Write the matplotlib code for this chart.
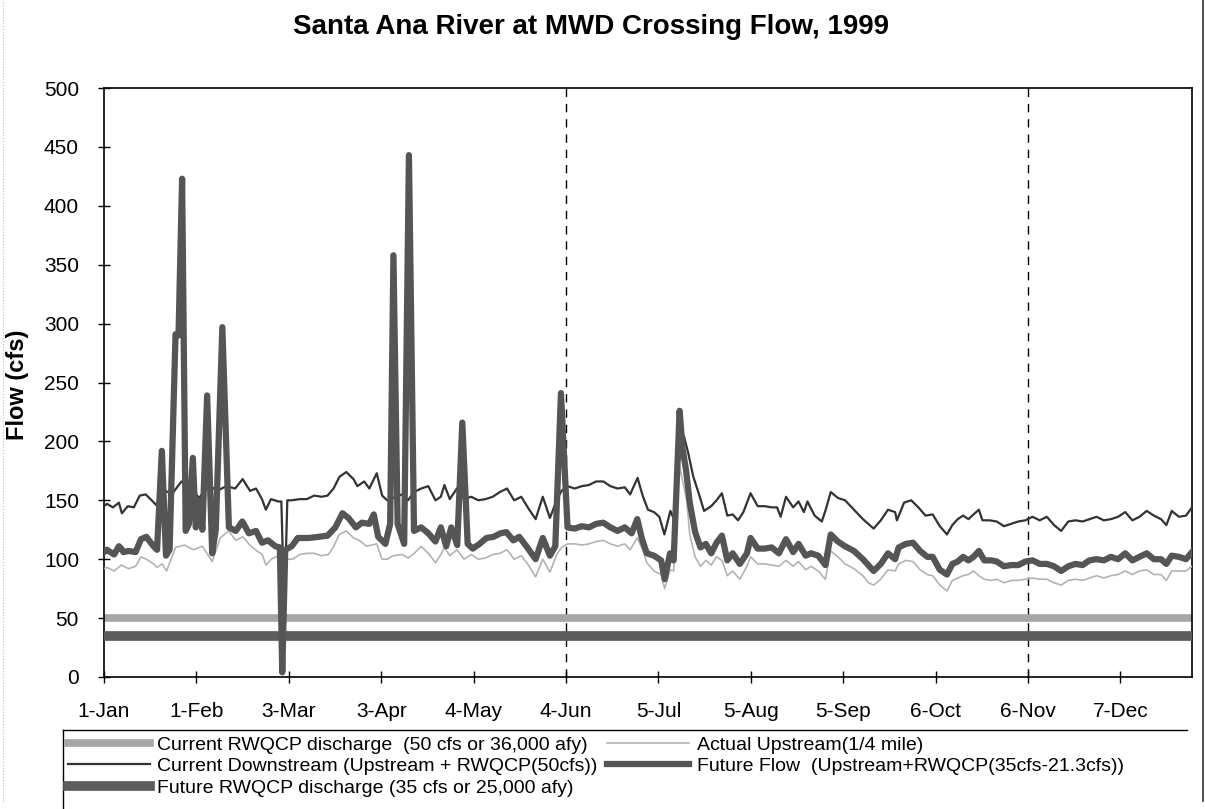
import matplotlib
matplotlib.use("Agg")
import matplotlib.pyplot as plt
from matplotlib.lines import Line2D

plt.rcParams['font.family'] = ['Liberation Sans', 'DejaVu Sans']

# x is the day index of the 1999 record (0 = 1-Jan), y is flow in cfs
tick_days = [0, 31, 62, 93, 124, 155, 186, 217, 248, 279, 310, 341]
tick_labels = ["1-Jan", "1-Feb", "3-Mar", "3-Apr", "4-May", "4-Jun",
               "5-Jul", "5-Aug", "5-Sep", "6-Oct", "6-Nov", "7-Dec"]
grid_days = [155, 310]

current_rwqcp = 50
future_rwqcp = 35

down_days = [0, 1, 3, 5, 6, 8, 10, 12, 14, 16, 17.5, 20, 23, 26, 29, 32, 35, 38, 41, 44,
             46.5, 49, 51, 53, 54.3, 56, 58.5, 59.5, 60.5, 61.5, 63, 65.7, 68, 70.5, 73, 75,
             77, 79, 81.3, 83.7, 85, 87.3, 89, 91.5, 93.3, 95, 97, 100, 102, 104, 106.4,
             108.8, 111.2, 113, 114.2, 116, 118.4, 120.8, 123.2, 125.6, 128, 130.4, 132.8,
             135.2, 137.6, 140, 142.4, 144.8, 147.2, 149.6, 152, 153.5, 155.5, 157.9, 160.3,
             162.7, 165.1, 167.5, 169.9, 172.3, 174.7, 176.5, 179, 180.7, 182.5, 184.5,
             186.3, 188, 190, 191.2, 193, 194.5, 196, 197.7, 199.5, 201.3, 203.7, 205.5,
             207.3, 209.1, 210.9, 212.7, 214.5, 216.9, 219.3, 221.6, 224, 225.8, 227, 228.8,
             231.2, 233, 234.8, 236, 238.4, 240.8, 242, 243.8, 246.2, 248.6, 251.6, 254.6,
             256.4, 258.2, 260.6, 263, 265.4, 266, 268.4, 270.8, 273.2, 275.6, 278, 280.4,
             282.8, 284.6, 286.4, 288.2, 290, 291.7, 293.5, 294.7, 297.1, 299.5, 301.9,
             304.3, 306.7, 309.1, 311.5, 313.9, 316.3, 318.7, 321.1, 323.5, 325.9, 328.3,
             330.6, 333, 335.4, 337.8, 340.2, 342.6, 345, 347.4, 349.8, 352.2, 354.6, 356.4,
             358.2, 360.6, 363, 365]
down_flow = [145, 147, 144, 148, 139, 145, 144, 154, 155, 150, 146, 158, 156, 166, 160, 152,
             163, 158, 162, 160, 168, 158, 160, 151, 142, 151, 149, 149, 55, 150, 150, 151,
             151, 154, 153, 154, 160, 170, 174, 168, 162, 166, 160, 173, 154, 150, 152, 155,
             150, 157, 160, 162, 150, 153, 163, 151, 160, 151, 153, 150, 151, 153, 157, 160,
             150, 153, 143, 134, 153, 135, 151, 158, 162, 160, 162, 163, 166, 166, 162, 160,
             161, 155, 169, 154, 142, 140, 136, 121, 141, 134, 185, 205, 190, 170, 156, 141,
             145, 150, 156, 137, 138, 133, 140, 156, 145, 145, 144, 144, 136, 153, 144, 149,
             140, 149, 137, 132, 141, 157, 152, 150, 142, 134, 130, 126, 133, 142, 140, 133,
             148, 150, 144, 137, 138, 128, 121, 129, 134, 137, 134, 138, 142, 133, 133, 132,
             128, 130, 132, 133, 136, 133, 136, 129, 124, 132, 133, 132, 134, 136, 133, 134,
             136, 140, 133, 136, 141, 137, 134, 129, 141, 136, 137, 144]

up_days = [0, 1, 3.4, 5.8, 8.2, 10.6, 12.4, 14.2, 16.6, 17.8, 19.5, 21, 24, 27, 30, 33, 36.3,
           39, 41.8, 44.2, 46.6, 48.9, 51.3, 53.1, 54.3, 56.1, 58.5, 59.5, 60, 60.9, 63.3,
           65.7, 68.1, 70.5, 72.9, 75.3, 77.1, 78.9, 81.3, 83.7, 85.7, 88, 91.5, 93.3, 95.1,
           97, 100, 102, 104.1, 106.4, 108.8, 111.2, 113, 114.2, 116, 118.4, 120.8, 123.2,
           125.6, 128, 130.4, 132.8, 135.2, 137.6, 140, 142.4, 144.8, 147.2, 149.6, 151.9,
           153.5, 155.5, 157.9, 160.3, 162.7, 165.1, 167.5, 169.9, 172.3, 174.7, 176.5,
           178.9, 180.7, 182.1, 184.5, 186.9, 188.1, 189.9, 191.1, 193, 195.5, 196.5, 198.3,
           200.1, 201.9, 203.7, 205.5, 207.3, 209.1, 210.9, 213.3, 215.7, 216.9, 219.3,
           221.6, 224, 226.4, 228.8, 231.2, 233, 235.4, 237.2, 239.6, 242, 243.8, 246.2,
           248.6, 251.6, 254.6, 256.4, 258.2, 260.6, 263, 265.4, 266.6, 269, 271.4, 273.8,
           276.2, 278, 280.4, 282.8, 284.6, 286.4, 288.2, 290, 291.7, 293.5, 295.3, 297.7,
           299.5, 301.9, 304.3, 306.7, 309.1, 311.5, 313.9, 316.3, 318.7, 321.1, 323.5,
           325.9, 328.3, 330.6, 333, 335.4, 337.8, 340.2, 342.6, 345, 347.4, 349.8, 352.2,
           354.6, 356.4, 358.2, 360.6, 363, 365]
up_flow = [92, 93, 90, 95, 92, 94, 102, 100, 96, 93, 96, 90, 110, 112, 108, 111, 98, 118, 124,
           116, 119, 112, 107, 104, 95, 100, 103, 101, 2, 100, 100, 104, 105, 105, 103, 104,
           111, 121, 124, 118, 116, 111, 113, 100, 100, 103, 104, 101, 105, 111, 105, 97, 104,
           110, 103, 108, 100, 104, 100, 101, 104, 105, 108, 100, 103, 95, 85, 100, 89, 104,
           110, 113, 113, 112, 113, 115, 116, 113, 111, 113, 108, 118, 108, 97, 90, 87, 75,
           91, 90, 180, 150, 121, 102, 94, 99, 95, 102, 99, 86, 90, 83, 94, 102, 96, 96, 95,
           94, 99, 94, 98, 91, 94, 90, 83, 107, 102, 96, 92, 86, 80, 78, 83, 91, 90, 96, 99,
           98, 91, 87, 86, 78, 73, 82, 84, 86, 87, 90, 86, 83, 82, 83, 80, 82, 82, 83, 84, 83,
           83, 80, 78, 82, 83, 82, 84, 86, 84, 86, 87, 90, 87, 90, 91, 87, 87, 82, 90, 90, 90,
           94]

fut_days = [0, 1, 3.4, 5, 5.8, 6.5, 8.2, 10.6, 12.4, 14.2, 16.6, 17.8, 19.4, 20.8, 22, 23,
            24, 25, 26.2, 27.4, 28.5, 29.8, 30.8, 32, 33, 34.6, 36.3, 37.5, 39.7, 41.9, 44.2,
            46.4, 48.6, 51, 53, 55, 57.5, 59, 59.8, 60.8, 63, 65, 68.6, 72, 75, 77.6, 80, 82,
            84.5, 86.5, 89, 90.5, 92, 94.4, 96, 97.1, 98.5, 100.7, 102.3, 104, 106.4, 108.8,
            111.2, 113, 114.8, 116.5, 118.5, 120.2, 122, 123.7, 126, 128.3, 130.7, 133, 135,
            137.3, 139.3, 141.7, 144.8, 147.2, 149.6, 151.4, 153.3, 155.5, 157.9, 160.3,
            162.7, 165.1, 167.5, 169.9, 172.3, 174.7, 177, 178.9, 180.5, 182.1, 184.5, 186.9,
            188.1, 189.9, 191.1, 193.1, 194.1, 195.3, 196.5, 198.3, 200.1, 201.9, 203.7,
            205.5, 207.3, 209.1, 210.9, 213.3, 215.7, 216.9, 219.3, 221.6, 224, 226.4, 228.8,
            231.2, 233, 235.4, 237.2, 239.6, 242, 243.8, 246.2, 248.6, 251.6, 254.6, 256.4,
            258.2, 260.6, 263, 265.4, 266.6, 269, 271.4, 273.8, 276.2, 278, 280.4, 282.8,
            284.6, 286.4, 288.2, 290, 291.7, 293.5, 295.3, 297.7, 299.5, 301.9, 304.3, 306.7,
            309.1, 311.5, 313.9, 316.3, 318.7, 321.1, 323.5, 325.9, 328.3, 330.6, 333, 335.4,
            337.8, 340.2, 342.6, 345, 347.4, 349.8, 352.2, 354.6, 356.4, 358.2, 360.6, 363,
            365]
fut_flow = [106, 108, 104, 111, 109, 106, 107, 106, 117, 119, 111, 108, 192, 103, 108, 200,
            291, 290, 423, 124, 130, 186, 127, 150, 125, 239, 105, 125, 297, 127, 124, 132,
            122, 124, 114, 116, 111, 110, 4, 108, 111, 118, 118, 119, 120, 127, 139, 135, 127,
            131, 130, 138, 119, 113, 130, 358, 130, 113, 443, 124, 127, 122, 115, 127, 111,
            127, 112, 216, 113, 109, 113, 118, 119, 122, 123, 116, 119, 111, 100, 118, 103,
            111, 241, 127, 126, 128, 127, 130, 131, 127, 124, 127, 122, 134, 117, 105, 103,
            99, 83, 105, 99, 226, 194, 175, 148, 123, 110, 113, 105, 114, 120, 99, 105, 96,
            105, 118, 109, 109, 110, 105, 117, 106, 113, 103, 105, 103, 95, 121, 115, 111,
            107, 100, 95, 90, 96, 105, 100, 110, 113, 114, 107, 102, 102, 91, 87, 96, 98, 102,
            99, 102, 107, 99, 99, 98, 94, 95, 95, 98, 99, 96, 96, 94, 90, 94, 96, 95, 99, 100,
            99, 102, 100, 105, 99, 102, 105, 100, 100, 96, 103, 102, 100, 106]

fig = plt.figure(figsize=(12.05, 8.09), dpi=100)
ax = fig.add_axes([104 / 1205, 1 - 677 / 809, 1088 / 1205, 589 / 809])

ax.axhline(current_rwqcp, color="#a6a6a6", lw=5.5, zorder=2)
ax.plot(down_days, down_flow, color="#333333", lw=1.6, zorder=3)
ax.axhline(future_rwqcp, color="#5c5c5c", lw=7, zorder=4)
ax.plot(up_days, up_flow, color="#b3b3b3", lw=1.2, zorder=5)
ax.plot(fut_days, fut_flow, color="#555555", lw=4.5, zorder=6)

for d in grid_days:
    ax.axvline(d, color="black", lw=1, ls=(0, (6, 5)), zorder=1)

ax.set_xlim(0, 365)
ax.set_ylim(0, 500)
ax.set_yticks(range(0, 501, 50))
ax.set_xticks(tick_days)
ax.set_xticklabels(tick_labels)
ax.tick_params(axis="both", direction="inout", length=8, width=1, labelsize=15, colors="black")
ax.tick_params(axis="x", pad=14)
ax.tick_params(axis="y", pad=14)
for s in ax.spines.values():
    s.set_linewidth(1.2)

fig.text(591 / 1205, 1 - 27 / 809, "Santa Ana River at MWD Crossing Flow, 1999",
         ha="center", va="center", fontsize=20, fontweight="bold")
fig.text(18 / 1205, 1 - 385 / 809, "Flow (cfs)", rotation=90, ha="center", va="center",
         fontsize=17, fontweight="bold")

handles = [
    Line2D([], [], color="#a6a6a6", lw=5.5),
    Line2D([], [], color="#333333", lw=1.6),
    Line2D([], [], color="#5c5c5c", lw=7),
    Line2D([], [], color="#b3b3b3", lw=1.2),
    Line2D([], [], color="#555555", lw=4.5),
]
labels = [
    "Current RWQCP discharge  (50 cfs or 36,000 afy)",
    "Current Downstream (Upstream + RWQCP(50cfs))",
    "Future RWQCP discharge (35 cfs or 25,000 afy)",
    "Actual Upstream(1/4 mile)",
    "Future Flow  (Upstream+RWQCP(35cfs-21.3cfs))",
]
leg = fig.legend(handles, labels, ncol=2, loc="upper left",
                 bbox_to_anchor=(66 / 1205, 1 - 734 / 809), borderaxespad=0,
                 fontsize=14, handlelength=4.2, handletextpad=0.4, labelspacing=0.2,
                 columnspacing=0.5, borderpad=0.1, frameon=False)

# legend box: top and left edges only, the rest runs off the page
fig.add_artist(Line2D([63 / 1205, 1187 / 1205], [1 - 730 / 809, 1 - 730 / 809],
                      color="black", lw=1))
fig.add_artist(Line2D([63 / 1205, 63 / 1205], [0, 1 - 730 / 809], color="black", lw=1))

fig.add_artist(Line2D([1203 / 1205, 1203 / 1205], [0.01, 1], color="#333333", lw=1.2))
fig.add_artist(Line2D([3 / 1205, 3 / 1205], [0.01, 1], color="#bbbbbb", lw=0.8, ls=":"))

fig.savefig("out.png", dpi=100)
